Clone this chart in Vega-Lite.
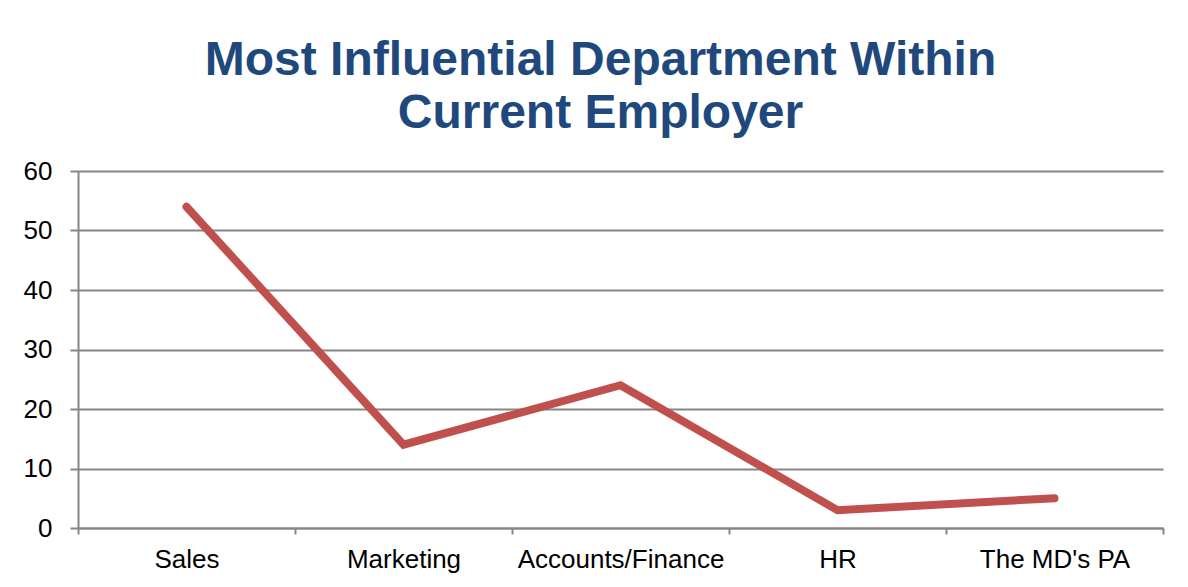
{
  "$schema": "https://vega.github.io/schema/vega-lite/v6.json",
  "width": 1085,
  "height": 357,
  "autosize": {"type": "none"},
  "padding": {"left": 78, "top": 171, "right": 25, "bottom": 59},
  "background": "white",
  "title": {
    "text": ["Most Influential Department Within", "Current Employer"],
    "font": "Liberation Sans",
    "fontSize": 48,
    "fontWeight": "bold",
    "color": "#1F497D",
    "anchor": "middle",
    "dx": -20,
    "offset": 20,
    "lineHeight": 53
  },
  "data": {
    "values": [
      {"dept": "Sales", "value": 54},
      {"dept": "Marketing", "value": 14},
      {"dept": "Accounts/Finance", "value": 24},
      {"dept": "HR", "value": 3},
      {"dept": "The MD's PA", "value": 5}
    ]
  },
  "mark": {"type": "line", "color": "#C0504D", "strokeWidth": 8, "strokeCap": "round", "strokeJoin": "miter"},
  "encoding": {
    "x": {
      "field": "dept",
      "type": "nominal",
      "sort": null,
      "bandPosition": 0.5,
      "scale": {"type": "band", "paddingInner": 0, "paddingOuter": 0},
      "axis": {
        "title": null,
        "labelAngle": 0,
        "labelFont": "Liberation Sans",
        "labelFontSize": 26,
        "labelColor": "#000000",
        "labelPadding": 12,
        "labelLimit": 400,
        "labelOverlap": false,
        "tickBand": "extent",
        "tickSize": 6,
        "tickColor": "#868686",
        "tickWidth": 2,
        "domainColor": "#868686",
        "domainWidth": 2,
        "grid": false
      }
    },
    "y": {
      "field": "value",
      "type": "quantitative",
      "scale": {"domain": [0, 60], "nice": false},
      "axis": {
        "title": null,
        "values": [0, 10, 20, 30, 40, 50, 60],
        "labelFont": "Liberation Sans",
        "labelFontSize": 26,
        "labelColor": "#000000",
        "labelPadding": 18,
        "tickSize": 8,
        "tickColor": "#868686",
        "tickWidth": 2,
        "domainColor": "#868686",
        "domainWidth": 2,
        "grid": true,
        "gridColor": "#868686",
        "gridWidth": 2
      }
    }
  },
  "config": {"view": {"stroke": null}}
}
